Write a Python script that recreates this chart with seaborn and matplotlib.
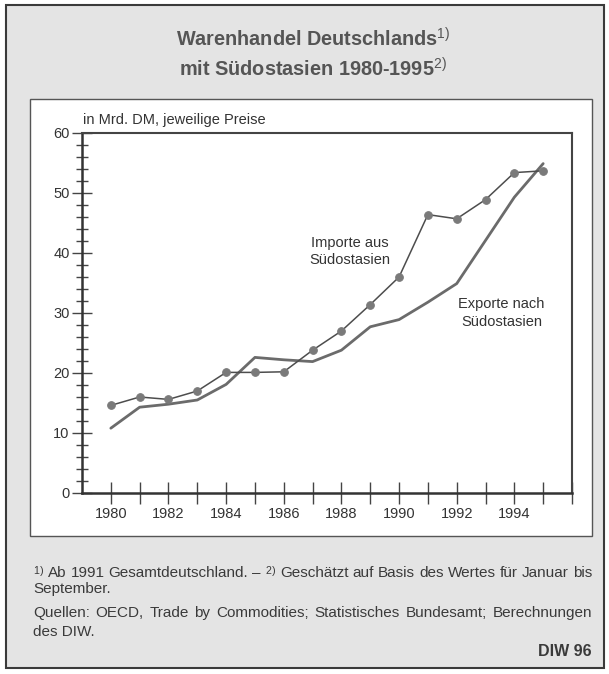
import numpy as np
import pandas as pd
import matplotlib
matplotlib.use('Agg')
import matplotlib.pyplot as plt
from matplotlib.patches import Rectangle
from matplotlib.ticker import MultipleLocator
import seaborn as sns

# data (Mrd. DM)
years = [1980, 1981, 1982, 1983, 1984, 1985, 1986, 1987,
         1988, 1989, 1990, 1991, 1992, 1993, 1994, 1995]
importe = [14.6, 16.0, 15.6, 17.0, 20.1, 20.1, 20.2, 23.8,
           27.0, 31.4, 36.0, 46.4, 45.7, 48.9, 53.4, 53.7]
exporte = [10.8, 14.3, 14.8, 15.5, 18.1, 22.6, 22.2, 21.9,
           23.8, 27.7, 28.9, 31.8, 34.9, 42.1, 49.3, 54.9]
year_labels = [1980, 1982, 1984, 1986, 1988, 1990, 1992, 1994]

sns.set_style('ticks')
plt.rcParams['font.family'] = ['Liberation Sans', 'DejaVu Sans']
plt.rcParams['mathtext.fontset'] = 'custom'
plt.rcParams['mathtext.rm'] = 'Liberation Sans'
plt.rcParams['mathtext.it'] = 'Liberation Sans'

W, H = 609, 674
fig = plt.figure(figsize=(W / 100, H / 100), dpi=100, facecolor='white')

def fx(px):
    return px / W

def fy(py):
    return 1 - py / H

# outer gray frame and inner white panel
fig.patches.append(Rectangle((fx(6), fy(668)), fx(598), 663 / H, transform=fig.transFigure,
                             facecolor='#e4e4e4', edgecolor='#3a3a3a', lw=1.5, zorder=-10))
fig.patches.append(Rectangle((fx(30), fy(536)), fx(562), 437 / H, transform=fig.transFigure,
                             facecolor='white', edgecolor='#555555', lw=1.0, zorder=-9))

ax = fig.add_axes([fx(82), fy(493), fx(572 - 82), (493 - 133) / H])
ax.set_facecolor('white')

df = pd.DataFrame({'Jahr': years, 'Importe': importe, 'Exporte': exporte})
sns.lineplot(data=df, x='Jahr', y='Exporte', ax=ax, color='#6b6b6b', lw=2.0)
sns.lineplot(data=df, x='Jahr', y='Importe', ax=ax, color='#4d4d4d', lw=1.1,
             marker='o', markersize=5.5, markerfacecolor='#7a7a7a', markeredgecolor='#7a7a7a')

ax.set_xlim(1979, 1996)
ax.set_ylim(0, 60)
ax.set_xlabel('')
ax.set_ylabel('')
ax.set_xticks(range(1980, 1997))
ax.set_xticklabels([str(y) if y in year_labels else '' for y in range(1980, 1997)])
ax.yaxis.set_major_locator(MultipleLocator(10))
ax.yaxis.set_minor_locator(MultipleLocator(2))
ax.tick_params(axis='x', direction='inout', length=16, width=1, colors='#444444',
               labelsize=10.5, labelcolor='#333333', pad=2)
ax.tick_params(axis='y', which='major', direction='inout', length=14, width=1,
               colors='#444444', labelsize=10.5, labelcolor='#333333', pad=2)
ax.tick_params(axis='y', which='minor', direction='inout', length=8, width=1, colors='#444444')
for side in ['left', 'bottom']:
    ax.spines[side].set_linewidth(1.8)
    ax.spines[side].set_color('#333333')
for side in ['top', 'right']:
    ax.spines[side].set_linewidth(1.5)
    ax.spines[side].set_color('#444444')
    ax.spines[side].set_visible(True)

ax.text(1988.3, 40.3, 'Importe aus\nSüdostasien', ha='center', va='center',
        fontsize=10.5, color='#333333', linespacing=1.3)
ax.text(1993.55, 30.0, 'Exporte nach\nSüdostasien', ha='center', va='center',
        fontsize=10.5, color='#333333', linespacing=1.3)

fig.text(fx(83), fy(120), 'in Mrd. DM, jeweilige Preise', ha='left', va='center',
         fontsize=10.5, color='#333333')

# title
fig.text(fx(313), fy(39), r'Warenhandel Deutschlands$^{1)}$', ha='center', va='center',
         fontsize=14.3, fontweight='bold', color='#555555')
fig.text(fx(313), fy(69), r'mit Südostasien 1980-1995$^{2)}$', ha='center', va='center',
         fontsize=14.3, fontweight='bold', color='#555555')

# footnotes, justified between x=33 and x=592
foot = '#3a3a3a'
renderer = fig.canvas.get_renderer()

def justified(words, y, x0=33, x1=592, size=11):
    parts = [fig.text(0, fy(y), w, ha='left', va='center', fontsize=size, color=foot)
             for w in words]
    widths = [p.get_window_extent(renderer).width for p in parts]
    gap = (x1 - x0 - sum(widths)) / (len(words) - 1)
    x = x0
    for p, w in zip(parts, widths):
        p.set_x(fx(x))
        x += w + gap

line1 = [r'$^{1)}$', 'Ab', '1991', 'Gesamtdeutschland.', '–', r'$^{2)}$', 'Geschätzt', 'auf',
         'Basis', 'des', 'Wertes', 'für', 'Januar', 'bis']
line3 = ['Quellen:', 'OECD,', 'Trade', 'by', 'Commodities;', 'Statistisches', 'Bundesamt;',
         'Berechnungen']
justified(line1, 573)
fig.text(fx(33), fy(589), 'September.', ha='left', va='center', fontsize=11, color=foot)
justified(line3, 613)
fig.text(fx(33), fy(632), 'des DIW.', ha='left', va='center', fontsize=11, color=foot)
fig.text(fx(592), fy(651), 'DIW 96', ha='right', va='center', fontsize=11.5,
         fontweight='bold', color=foot)

fig.savefig('out.png', dpi=100, facecolor=fig.get_facecolor())
